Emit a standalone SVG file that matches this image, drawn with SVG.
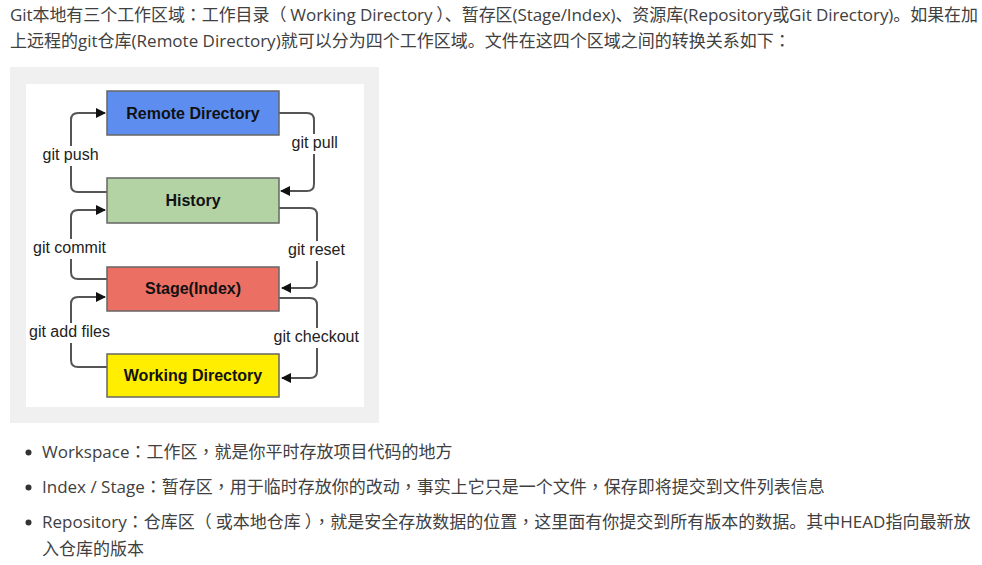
<svg xmlns="http://www.w3.org/2000/svg" width="982" height="565" viewBox="0 0 982 565">
<defs>
<style>
.txt{font-family:"Open Sans","Noto Sans CJK SC",sans-serif;font-size:17px;fill:#404040}
.p{font-family:"Noto Sans CJK TC",sans-serif}
.box{stroke:#666;stroke-width:1.5}
.bl{font-family:"Liberation Sans",Arial,sans-serif;font-size:16px;font-weight:bold;fill:#111;text-anchor:middle}
.lb{font-family:"Liberation Sans",Arial,sans-serif;font-size:16px;fill:#222}
.conn{fill:none;stroke:#555;stroke-width:2}
.lbg{fill:#fff}
</style>
<marker id="ah" viewBox="0 0 10 10" refX="9" refY="5" markerWidth="5" markerHeight="5" orient="auto" markerUnits="strokeWidth">
<path d="M0,0 L10,5 L0,10 z" fill="#111"/>
</marker>
</defs>
<rect width="982" height="565" fill="#fff"/>
<text class="txt" x="10" y="21" textLength="968" lengthAdjust="spacing">Git本地有三个工作区域<tspan class="p">：</tspan>工作目录（<tspan dx="4">Working Directory</tspan><tspan dx="4">）</tspan>、暂存区(Stage/Index)、资源库(Repository或Git Directory)。如果在加</text>
<text class="txt" x="10" y="47">上远程的git仓库(Remote Directory)就可以分为四个工作区域。文件在这四个区域之间的转换关系如下<tspan class="p">：</tspan></text>
<rect x="10" y="67" width="369" height="356" fill="#f0f0f0"/>
<rect x="26" y="84" width="338" height="323" fill="#fff"/>
<g id="connectors">
<path class="conn" d="M107,192 H78 Q71,192 71,185 V120 Q71,113 78,113 H105" marker-end="url(#ah)"/>
<path class="conn" d="M279,113 H307 Q314,113 314,120 V184 Q314,191 307,191 H281" marker-end="url(#ah)"/>
<path class="conn" d="M107,279 H78 Q71,279 71,272 V217 Q71,210 78,210 H105" marker-end="url(#ah)"/>
<path class="conn" d="M279,208 H310 Q317,208 317,215 V281 Q317,288 310,288 H282" marker-end="url(#ah)"/>
<path class="conn" d="M107,367 H78 Q71,367 71,360 V304 Q71,297 78,297 H105" marker-end="url(#ah)"/>
<path class="conn" d="M279,298 H310 Q317,298 317,305 V371 Q317,378 310,378 H282" marker-end="url(#ah)"/>
<rect class="lbg" x="40" y="146" width="62" height="20"/>
<text class="lb" x="42.5" y="160">git push</text>
<rect class="lbg" x="289" y="134" width="53" height="20"/>
<text class="lb" x="291.5" y="148">git pull</text>
<rect class="lbg" x="31" y="239" width="80" height="20"/>
<text class="lb" x="33" y="253">git commit</text>
<rect class="lbg" x="286" y="241" width="62" height="20"/>
<text class="lb" x="288" y="255">git reset</text>
<rect class="lbg" x="27" y="323" width="87" height="20"/>
<text class="lb" x="29" y="337">git add files</text>
<rect class="lbg" x="271" y="328" width="92" height="20"/>
<text class="lb" x="273.5" y="342">git checkout</text>
</g>
<g id="remote">
<rect class="box" x="107" y="91" width="172" height="44" fill="#5d8eef"/>
<text class="bl" x="193" y="119">Remote Directory</text>
</g>
<g id="history">
<rect class="box" x="107" y="178" width="172" height="45" fill="#b3d3a5"/>
<text class="bl" x="193" y="206">History</text>
</g>
<g id="stage">
<rect class="box" x="107" y="267" width="172" height="44" fill="#ec6f64"/>
<text class="bl" x="193" y="294">Stage(Index)</text>
</g>
<g id="working">
<rect class="box" x="107" y="354" width="172" height="43" fill="#ffee00"/>
<text class="bl" x="193" y="381">Working Directory</text>
</g>
<g id="bullets">
<circle cx="28.5" cy="452.5" r="3" fill="#333"/>
<text class="txt" x="42" y="458">Workspace<tspan class="p">：</tspan>工作区<tspan class="p">，</tspan>就是你平时存放项目代码的地方</text>
<circle cx="28.5" cy="487.5" r="3" fill="#333"/>
<text class="txt" x="42" y="493">Index / Stage<tspan class="p">：</tspan>暂存区<tspan class="p">，</tspan>用于临时存放你的改动<tspan class="p">，</tspan>事实上它只是一个文件<tspan class="p">，</tspan>保存即将提交到文件列表信息</text>
<circle cx="28.5" cy="522.5" r="3" fill="#333"/>
<text class="txt" x="42" y="528">Repository<tspan class="p">：</tspan>仓库区（<tspan dx="4">或本地仓库</tspan><tspan dx="4">）</tspan><tspan class="p">，</tspan>就是安全存放数据的位置<tspan class="p">，</tspan>这里面有你提交到所有版本的数据。其中HEAD指向最新放</text>
<text class="txt" x="42" y="555">入仓库的版本</text>
</g>
</svg>
